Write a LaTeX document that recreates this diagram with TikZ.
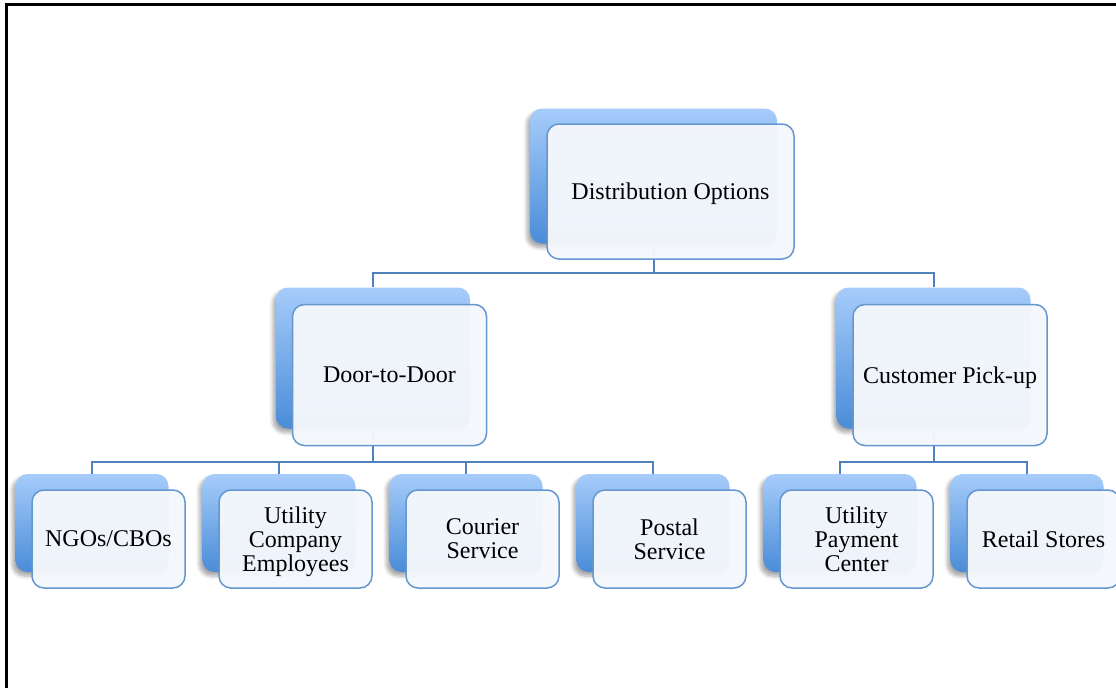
\documentclass[tikz,border=0pt]{standalone}
\usepackage{fontspec}
\setmainfont{Liberation Serif}
\usetikzlibrary{shadows.blur}
\definecolor{backtop}{HTML}{A6CCFA}
\definecolor{backbot}{HTML}{4A8CD8}
\definecolor{frontedge}{HTML}{6496CF}
\definecolor{frontfill}{HTML}{F4F7FC}
\definecolor{linkblue}{HTML}{4F81BD}
\tikzset{
  backbox/.style={rounded corners=6pt, top color=backtop, bottom color=backbot, draw=none,
    blur shadow={shadow xshift=-1.5pt, shadow yshift=-2pt, shadow opacity=35, shadow blur steps=6}},
  frontbox/.style={rounded corners=6pt, draw=frontedge, line width=0.75pt, fill=frontfill,
    fill opacity=0.97, text opacity=1, align=center, inner sep=0pt, text depth=-3.5pt,
    font=\fontsize{12}{12}\selectfont},
  rootsize/.style={minimum width=123.5pt, minimum height=67.5pt},
  midsize/.style={minimum width=97pt, minimum height=70.5pt},
  leafsize/.style={minimum width=76.5pt, minimum height=49pt},
  link/.style={draw=linkblue, line width=1pt}
}
\begin{document}
\begin{tikzpicture}[x=0.5pt,y=-0.5pt]
  \useasboundingbox (0,0) rectangle (1116,687);
  \clip (0,0) rectangle (1116,687);
  \draw[line width=1.5pt] (6.5,700) -- (6.5,4.7) -- (1130,4.7);
  % back boxes
  \node[backbox,rootsize] (dist) at (653.5,176) {};
  \node[backbox,midsize] (door) at (373,358) {};
  \node[backbox,midsize] (pick) at (933.5,358) {};
  \node[backbox,leafsize] (ngo) at (92,523) {};
  \node[backbox,leafsize] (uce) at (279,523) {};
  \node[backbox,leafsize] (cour) at (466,523) {};
  \node[backbox,leafsize] (post) at (653,523) {};
  \node[backbox,leafsize] (upc) at (840,523) {};
  \node[backbox,leafsize] (retail) at (1027,523) {};
  % connectors
  \draw[link] (dist.south) -- ++(0,29) -| (door.north);
  \draw[link] (dist.south) -- ++(0,29) -| (pick.north);
  \draw[link] (door.south) -- ++(0,33) -| (ngo.north);
  \draw[link] (door.south) -- ++(0,33) -| (uce.north);
  \draw[link] (door.south) -- ++(0,33) -| (cour.north);
  \draw[link] (door.south) -- ++(0,33) -| (post.north);
  \draw[link] (pick.south) -- ++(0,33) -| (upc.north);
  \draw[link] (pick.south) -- ++(0,33) -| (retail.north);
  % front boxes
  \node[frontbox,rootsize] (distf) at ([shift={(17,15.5)}]dist.center) {Distribution Options};
  \node[frontbox,midsize] (doorf) at ([shift={(16.5,17)}]door.center) {Door-to-Door};
  \node[frontbox,midsize] (pickf) at ([shift={(16.5,17)}]pick.center) {Customer Pick-up};
  \node[frontbox,leafsize] (ngof) at ([shift={(16.5,16)}]ngo.center) {NGOs/CBOs};
  \node[frontbox,leafsize] (ucef) at ([shift={(16.5,16)}]uce.center) {Utility\\Company\\Employees};
  \node[frontbox,leafsize] (courf) at ([shift={(16.5,16)}]cour.center) {Courier\\Service};
  \node[frontbox,leafsize] (postf) at ([shift={(16.5,16)}]post.center) {Postal\\Service};
  \node[frontbox,leafsize] (upcf) at ([shift={(16.5,16)}]upc.center) {Utility\\Payment\\Center};
  \node[frontbox,leafsize] (retailf) at ([shift={(16.5,16)}]retail.center) {Retail Stores};
\end{tikzpicture}
\end{document}
